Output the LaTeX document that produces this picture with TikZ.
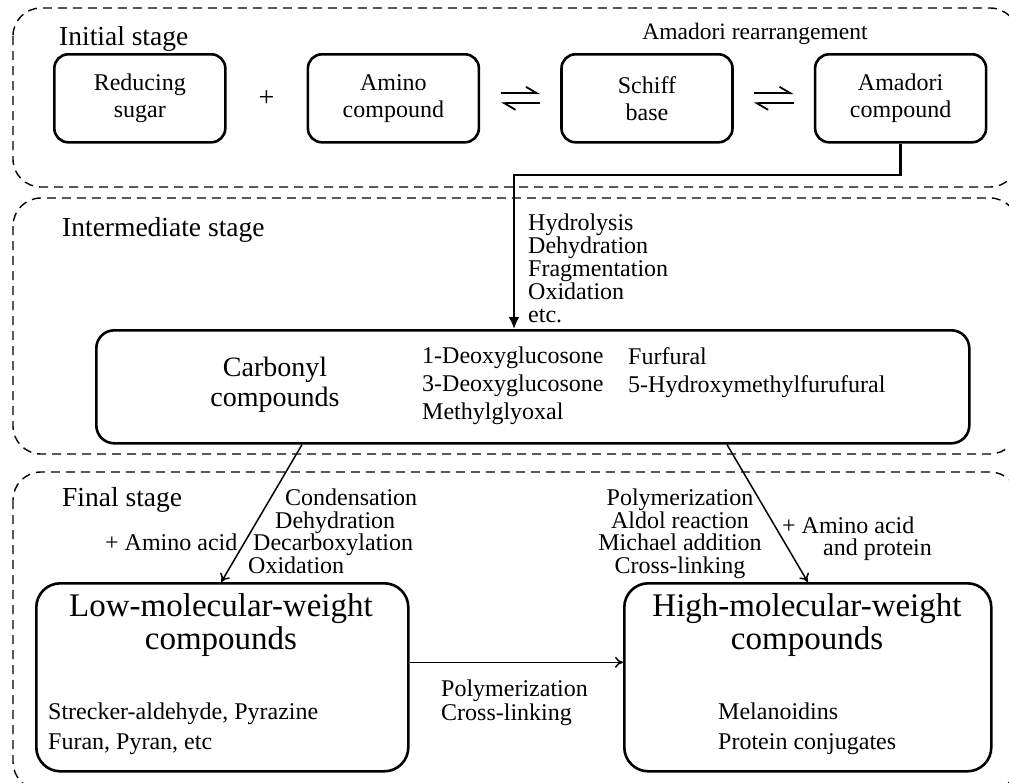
\documentclass[tikz,border=0pt]{standalone}
\usepackage{fontspec}
\setmainfont{Liberation Serif}
\usetikzlibrary{positioning,arrows.meta}

\begin{document}
\begin{tikzpicture}[x=1pt, y=1pt,
  font=\fontsize{24}{27}\selectfont, node distance=80pt,
  stage/.style={draw, line width=1.4pt, dash pattern=on 9pt off 6pt, rounded corners=28pt},
  box/.style={draw, line width=2.6pt, rounded corners=14pt, align=center, minimum width=171pt, minimum height=88pt, inner sep=2pt},
  bigbox/.style={draw, line width=2.6pt, rounded corners=24pt, inner sep=0pt},
  title/.style={font=\fontsize{27.5}{30}\selectfont, anchor=base west, inner sep=0pt},
  lab/.style={align=left, inner sep=0pt, font=\fontsize{24}{22.5}\selectfont},
  big/.style={align=center, inner sep=0pt, font=\fontsize{33}{33}\selectfont},
  eq/.style={line width=1.8pt, -{Straight Barb[left, length=11pt, width=13pt]}},
  thin/.style={line width=1.5pt, -{To[length=8pt, width=11pt]}}]
\useasboundingbox (0,0) rectangle (1009,-782);

% stages
\draw[stage] (13,-8) rectangle (1018,-187);
\draw[stage] (13,-198) rectangle (1018,-454);
\draw[stage] (13,-472) rectangle (1018,-790);
\node[title] (initial) at (59,-45) {Initial stage};
\node[title] (interm) at (62,-236) {Intermediate stage};
\node[title] (final) at (62,-506) {Final stage};

% initial stage
\node[box, anchor=north west] (sugar) at (53,-53) {Reducing\\sugar};
\node[box, right=of sugar] (amino) {Amino\\compound};
\node[box, right=of amino] (schiff) {Schiff\\base};
\node[box, right=of schiff] (amadori) {Amadori\\compound};
\path (sugar) -- node[font=\fontsize{28}{28}\selectfont] (plus) {+} (amino);
\node[anchor=base, inner sep=0pt, font=\fontsize{23.5}{26}\selectfont] (rearr) at (755,-39) {Amadori rearrangement};
\draw[eq] ([xshift=21pt, yshift=5pt]amino.east) -- ([xshift=-20pt, yshift=5pt]schiff.west);
\draw[eq] ([xshift=-20pt, yshift=-5pt]schiff.west) -- ([xshift=21pt, yshift=-5pt]amino.east);
\draw[eq] ([xshift=20pt, yshift=5pt]schiff.east) -- ([xshift=-20pt, yshift=5pt]amadori.west);
\draw[eq] ([xshift=-20pt, yshift=-5pt]amadori.west) -- ([xshift=20pt, yshift=-5pt]schiff.east);

% intermediate stage
\node[bigbox, anchor=north west, minimum width=873pt, minimum height=113pt, rounded corners=18pt] (carbonyl) at (95,-329) {};
\node[big, font=\fontsize{28}{30}\selectfont] (carbname) at (275,-385) {Carbonyl\\compounds};
\node[lab, anchor=north west, font=\fontsize{24}{28}\selectfont] (dicarb) at (422,-347) {1-Deoxyglucosone\\3-Deoxyglucosone\\Methylglyoxal};
\node[lab, anchor=north west, font=\fontsize{24}{28}\selectfont] (furans) at (628,-347) {Furfural\\5-Hydroxymethylfurufural};
\coordinate (drop) at (514,-175);
\draw[line width=2.6pt, -{Latex[length=12pt, width=11pt]}] (amadori.south) |- (drop) -- (drop |- carbonyl.north);
\node[lab, anchor=north west, font=\fontsize{24}{23}\selectfont] (steps) at (528,-213.5) {Hydrolysis\\Dehydration\\Fragmentation\\Oxidation\\etc.};

% final stage
\node[bigbox, anchor=north west, minimum width=372pt, minimum height=188pt] (low) at (35,-582) {};
\node[bigbox, anchor=north west, minimum width=367pt, minimum height=188pt] (high) at (623,-582) {};
\node[big] (lowname) at (221,-625) {Low-molecular-weight\\compounds};
\node[big] (highname) at (807,-625) {High-molecular-weight\\compounds};
\node[lab, anchor=north west, font=\fontsize{24}{30}\selectfont] (lowlist) at (48,-703) {Strecker-aldehyde, Pyrazine\\Furan, Pyran, etc};
\node[lab, anchor=north west, font=\fontsize{24}{30}\selectfont] (highlist) at (718,-703) {Melanoidins\\Protein conjugates};
\draw[thin] ([xshift=207pt]carbonyl.south west) -- ([xshift=-1pt]low.north);
\draw[thin] ([xshift=632pt]carbonyl.south west) -- (high.north);
\draw[thin] ([yshift=15pt]low.east) -- ([yshift=15pt]high.west);
\node[lab, anchor=north west] (lowsteps) at (248,-489) {\hspace*{37pt}Condensation\\\hspace*{27pt}Dehydration\\\hspace*{5pt}Decarboxylation\\Oxidation};
\node[lab, anchor=base west] (aminoL) at (105,-550) {+ Amino acid};
\node[lab, anchor=north, align=center] (highsteps) at (680,-489) {Polymerization\\Aldol reaction\\Michael addition\\Cross-linking};
\node[lab, anchor=north west] (aminoR) at (782,-516.5) {+ Amino acid\\\hspace*{41pt}and protein};
\node[lab, anchor=north west, font=\fontsize{24}{24}\selectfont] (links) at (441,-680) {Polymerization\\Cross-linking};
\end{tikzpicture}
\end{document}
